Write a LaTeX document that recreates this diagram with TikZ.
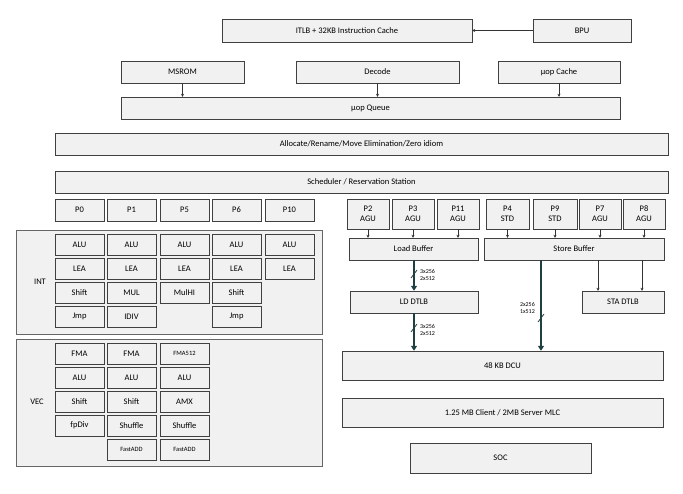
\documentclass[tikz,border=0pt]{standalone}
\usepackage{fontspec}
\setmainfont{Carlito}
\usetikzlibrary{arrows.meta}
\definecolor{boxfill}{HTML}{F1F1F1}
\definecolor{busteal}{HTML}{1F3F40}
\tikzset{
  blkbox/.style={draw=black!75, fill=boxfill, inner sep=0pt, font=\fontsize{8.5}{10}\selectfont, align=center},
  frame/.style={draw=black!60, fill=boxfill},
  thin/.style={-{Stealth[length=3pt,width=3pt]}, black!80, line width=0.5pt},
  bus/.style={-{Triangle[length=5pt,width=6pt]}, busteal, line width=2.4pt},
  cut/.style={busteal, line width=0.8pt},
  buslbl/.style={font=\fontsize{6}{7}\selectfont, align=left, inner sep=1pt}
}
% block from corner (x1,y1) to (x2,y2) in pixel units
\newcommand\blk[6]{%
  \pgfmathsetmacro\bw{#4-#2}\pgfmathsetmacro\bh{#5-#3}%
  \node[blkbox, minimum width=\bw pt, minimum height=\bh pt] (#1) at ({(#2+#4)/2},{(#3+#5)/2}) {#6};}
\begin{document}
\begin{tikzpicture}[x=1pt,y=-1pt]
\useasboundingbox (0,0) rectangle (683,494);
% frontend
\blk{itlb}{222}{19}{472}{42}{ITLB + 32KB Instruction Cache}
\blk{bpu}{533}{19}{631}{42}{BPU}
\blk{msrom}{121}{61}{244}{83}{MSROM}
\blk{decode}{296}{61}{459}{83}{Decode}
\blk{uopc}{498}{61}{620}{83}{µop Cache}
\blk{uopq}{121}{97}{620}{119}{µop Queue}
\blk{alloc}{55}{133}{668}{155}{Allocate/Rename/Move Elimination/Zero idiom}
\blk{sched}{55}{171}{668}{193}{Scheduler / Reservation Station}
\draw[thin] (bpu.west) -- (itlb.east);
\draw[thin] (msrom.south) -- (msrom.south|-uopq.north);
\draw[thin] (decode.south) -- (decode.south|-uopq.north);
\draw[thin] (uopc.south) -- (uopc.south|-uopq.north);
% execution ports
\blk{p0}{55}{199}{104}{221}{P0}
\blk{p1}{107}{199}{156}{221}{P1}
\blk{p5}{160}{199}{209}{221}{P5}
\blk{p6}{212}{199}{261}{221}{P6}
\blk{p10}{265}{199}{314}{221}{P10}
% INT cluster
\draw[frame] (16,230) rectangle (322,334);
\node[font=\fontsize{8.5}{10}\selectfont] (intlbl) at (40,282) {INT};
\foreach \c/\xa/\xb/\lst in {0/55/104/{ALU,LEA,Shift,Jmp},1/107/156/{ALU,LEA,MUL,IDIV},
  2/160/209/{ALU,LEA,MulHI},3/212/261/{ALU,LEA,Shift,Jmp},4/265/314/{ALU,LEA}}
  \foreach \t [count=\r from 0] in \lst {
    \pgfmathsetmacro\ya{234+24*\r}\pgfmathsetmacro\yb{\ya+21}
    \blk{int\c\r}{\xa}{\ya}{\xb}{\yb}{\t}}
% VEC cluster
\draw[frame] (16,339) rectangle (322,466);
\node[font=\fontsize{8.5}{10}\selectfont] (veclbl) at (37,402) {VEC};
\foreach \c/\xa/\xb/\lst in {0/55/104/{FMA,ALU,Shift,fpDiv},
  1/107/156/{FMA,ALU,Shift,Shuffle,{\fontsize{6.5}{7}\selectfont FastADD}},
  2/160/209/{{\fontsize{6.5}{7}\selectfont FMA512},ALU,AMX,Shuffle,{\fontsize{6.5}{7}\selectfont FastADD}}}
  \foreach \t [count=\r from 0] in \lst {
    \pgfmathsetmacro\ya{343+24*\r}\pgfmathsetmacro\yb{\ya+21}
    \blk{vec\c\r}{\xa}{\ya}{\xb}{\yb}{\t}}
% memory ports
\blk{p2}{347}{199}{389}{229}{P2\\AGU}
\blk{p3}{392}{199}{434}{229}{P3\\AGU}
\blk{p11}{437}{199}{479}{229}{P11\\AGU}
\blk{p4}{486}{199}{529}{229}{P4\\STD}
\blk{p9}{533}{199}{577}{229}{P9\\STD}
\blk{p7}{579}{199}{621}{229}{P7\\AGU}
\blk{p8}{623}{199}{665}{229}{P8\\AGU}
\blk{ldbuf}{349}{238}{478}{260}{Load Buffer}
\blk{stbuf}{484}{238}{664}{260}{Store Buffer}
\blk{lddtlb}{350}{291}{478}{313}{LD DTLB}
\blk{stadtlb}{582}{291}{664}{313}{STA DTLB}
\blk{dcu}{342}{351}{663}{380}{48 KB DCU}
\blk{mlc}{342}{398}{663}{427}{1.25 MB Client / 2MB Server MLC}
\blk{soc}{410}{443}{591}{473}{SOC}
\foreach \p in {p2,p3,p11}
  \draw[thin] (\p.south) -- (\p.south|-ldbuf.north);
\foreach \p in {p4,p9,p7,p8}
  \draw[thin] (\p.south) -- (\p.south|-stbuf.north);
\coordinate (sta1) at (598,260);
\coordinate (sta2) at (642,260);
\draw[thin] (sta1) -- (sta1|-stadtlb.north);
\draw[thin] (sta2) -- (sta2|-stadtlb.north);
% data buses
\coordinate (ldbus) at (414,260);
\coordinate (stbus) at (541,260);
\draw[bus] (ldbus) -- (ldbus|-lddtlb.north);
\draw[bus] (ldbus|-lddtlb.south) -- (ldbus|-dcu.north);
\draw[bus] (stbus) -- (stbus|-dcu.north);
\draw[cut] (411,278) -- (417,270);
\draw[cut] (411,332) -- (417,324);
\draw[cut] (538,322) -- (544,314);
\node[buslbl, anchor=west] (lbl1) at (419,275) {3x256\\2x512};
\node[buslbl, anchor=west] (lbl2) at (419,330) {3x256\\2x512};
\node[buslbl, anchor=east] (lbl3) at (536,308) {2x256\\1x512};
\end{tikzpicture}
\end{document}
